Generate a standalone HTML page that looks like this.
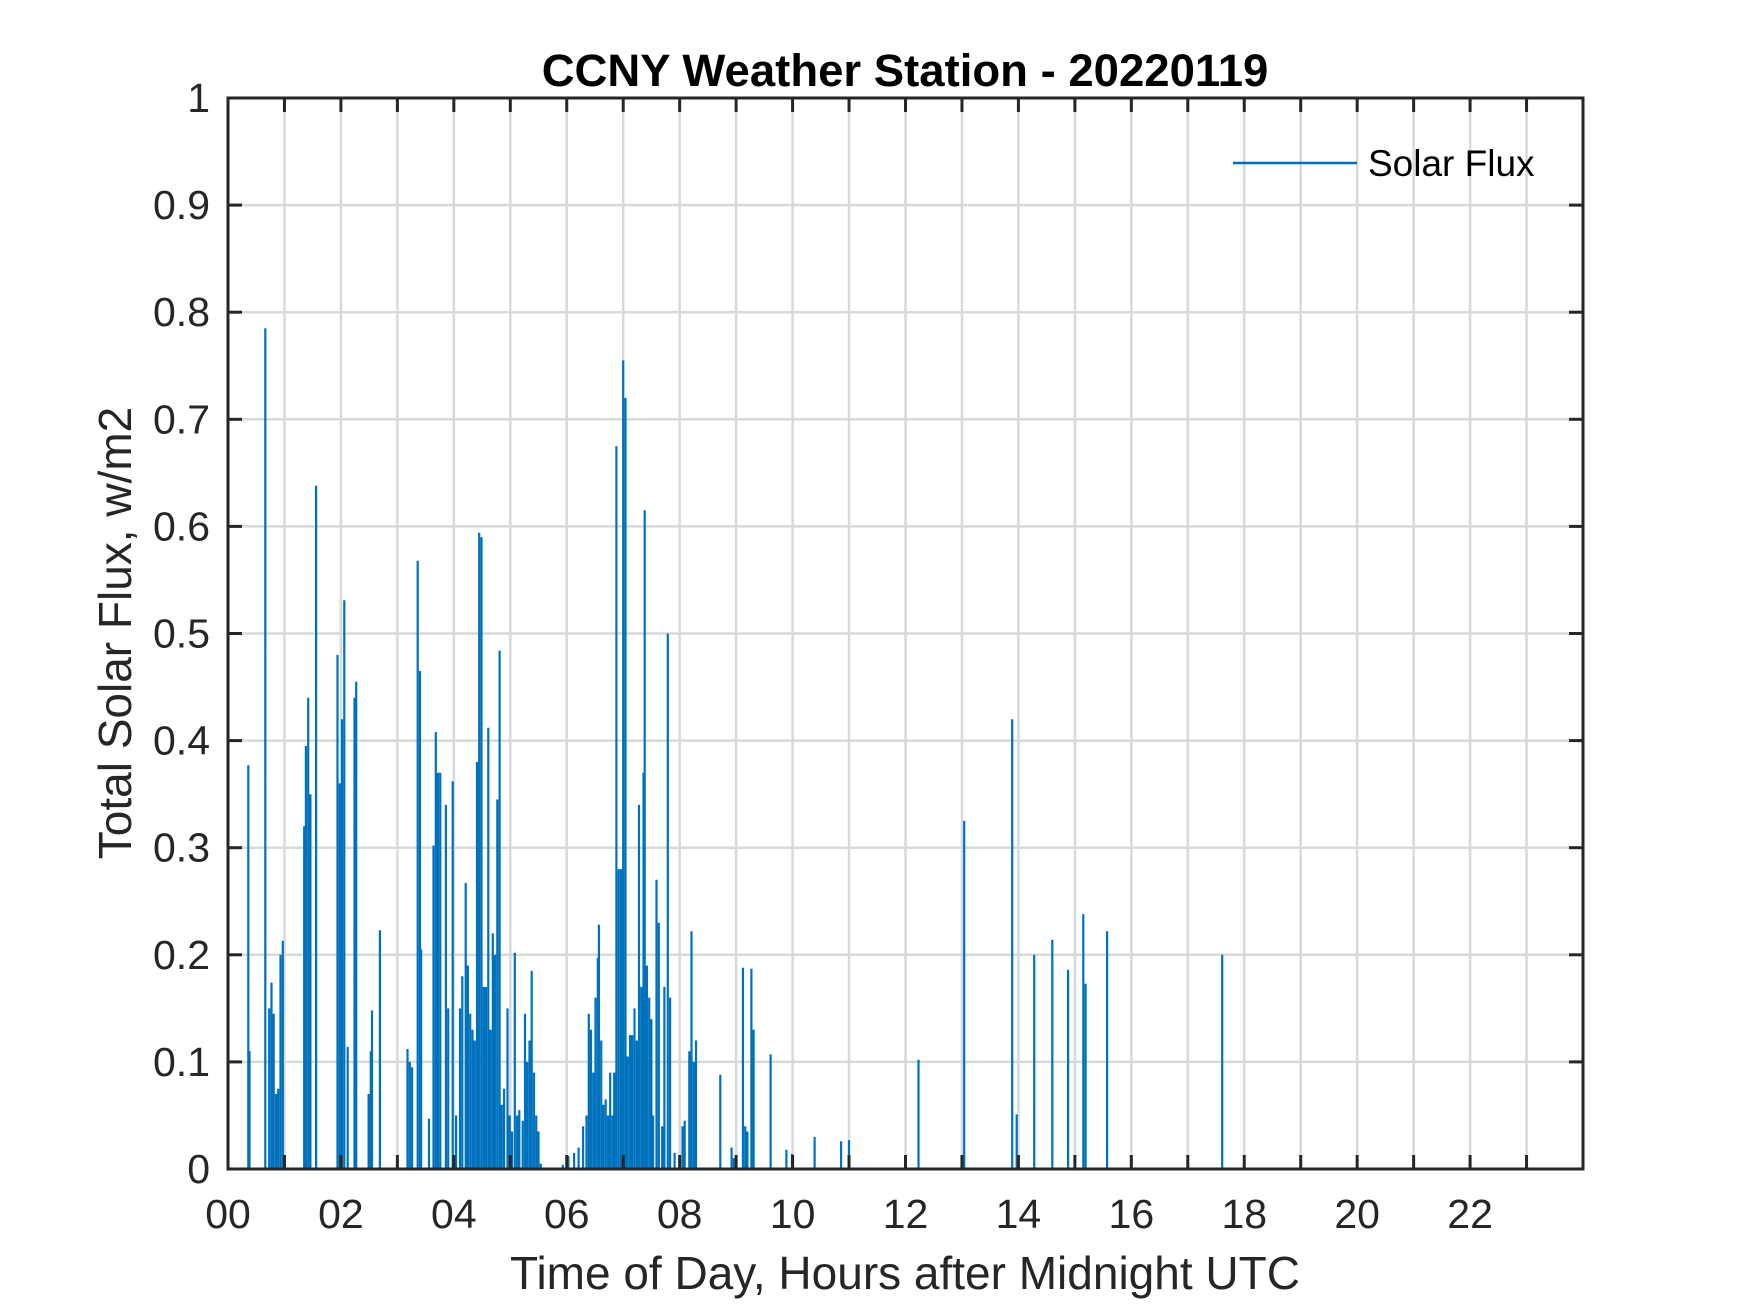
<!DOCTYPE html>
<html><head><meta charset="utf-8"><style>
html,body{margin:0;padding:0;background:#fff;}
svg{display:block;font-family:"Liberation Sans",Arial,sans-serif;}
</style></head><body>
<svg id="chart" width="1750" height="1313" viewBox="0 0 1750 1313">
<g id="grid"></g>
<g id="series"></g>
<rect x="228" y="98" width="1355" height="1071" fill="none" stroke="#262626" stroke-width="3"/>
<g id="ticks"></g>
<text x="905" y="86" text-anchor="middle" font-size="45.5" font-weight="bold" fill="#000">CCNY Weather Station - 20220119</text>
<text x="905" y="1289" text-anchor="middle" font-size="46" fill="#262626">Time of Day, Hours after Midnight UTC</text>
<text transform="translate(131,633) rotate(-90)" text-anchor="middle" font-size="46" fill="#262626">Total Solar Flux, w/m2</text>
<g>
<line x1="1233" y1="163" x2="1357" y2="163" stroke="#0072BD" stroke-width="2.5"/>
<text x="1368" y="176" font-size="37" fill="#000">Solar Flux</text>
</g>
</svg>
<script>
const hours=[0.36,0.38,0.66,0.73,0.77,0.81,0.85,0.89,0.93,0.97,1.35,1.38,1.42,1.46,1.56,1.94,1.98,2.02,2.06,2.12,2.24,2.27,2.49,2.53,2.55,2.69,3.18,3.22,3.26,3.36,3.40,3.42,3.56,3.64,3.68,3.72,3.76,3.86,3.90,3.98,4.04,4.11,4.15,4.21,4.25,4.29,4.33,4.37,4.41,4.45,4.49,4.53,4.57,4.61,4.65,4.69,4.73,4.77,4.81,4.85,4.89,4.95,4.99,5.03,5.08,5.12,5.16,5.22,5.26,5.30,5.34,5.38,5.42,5.46,5.50,5.54,5.93,6.03,6.13,6.21,6.29,6.35,6.39,6.43,6.47,6.51,6.55,6.57,6.61,6.65,6.69,6.73,6.77,6.81,6.84,6.88,6.92,6.96,7.00,7.04,7.08,7.12,7.16,7.20,7.24,7.28,7.32,7.36,7.38,7.42,7.46,7.50,7.53,7.59,7.63,7.69,7.73,7.79,7.83,7.91,8.05,8.09,8.17,8.21,8.25,8.29,8.72,8.92,8.96,9.12,9.16,9.20,9.27,9.31,9.61,9.89,9.99,10.39,10.86,11.0,12.23,13.04,13.89,13.97,14.28,14.60,14.88,15.15,15.19,15.57,17.61];
const flux=[0.377,0.11,0.785,0.15,0.174,0.145,0.07,0.075,0.2,0.213,0.32,0.395,0.44,0.35,0.638,0.48,0.36,0.42,0.531,0.114,0.44,0.455,0.07,0.11,0.148,0.223,0.112,0.10,0.095,0.568,0.465,0.205,0.047,0.302,0.408,0.37,0.37,0.34,0.15,0.362,0.05,0.15,0.18,0.267,0.19,0.145,0.13,0.12,0.38,0.594,0.59,0.17,0.17,0.412,0.13,0.22,0.2,0.345,0.484,0.06,0.075,0.15,0.05,0.035,0.202,0.05,0.055,0.045,0.145,0.1,0.12,0.185,0.09,0.05,0.035,0.005,0.004,0.012,0.015,0.02,0.04,0.05,0.145,0.13,0.09,0.16,0.197,0.228,0.12,0.06,0.065,0.05,0.09,0.05,0.09,0.675,0.28,0.28,0.755,0.72,0.105,0.125,0.125,0.15,0.12,0.34,0.17,0.37,0.615,0.19,0.16,0.14,0.05,0.27,0.23,0.04,0.17,0.5,0.16,0.015,0.04,0.045,0.11,0.222,0.1,0.12,0.088,0.02,0.01,0.188,0.04,0.035,0.187,0.13,0.107,0.018,0.014,0.03,0.026,0.027,0.102,0.325,0.42,0.051,0.2,0.214,0.186,0.238,0.173,0.222,0.2];
const xTickLabels=['00','02','04','06','08','10','12','14','16','18','20','22'];
const yTickLabels=['0','0.1','0.2','0.3','0.4','0.5','0.6','0.7','0.8','0.9','1'];
const NS='http://www.w3.org/2000/svg';
const X0=228,X1=1583,Y0=1169,Y1=98;
function xs(h){return X0+(h/24)*(X1-X0);}
function ys(v){return Y0-(v/1)*(Y0-Y1);}
function mk(tag,attrs,parent){const e=document.createElementNS(NS,tag);for(const k in attrs)e.setAttribute(k,attrs[k]);parent.appendChild(e);return e;}
const grid=document.getElementById('grid'),ticks=document.getElementById('ticks'),series=document.getElementById('series');
for(let h=1;h<24;h++){
  const l=mk('line',{x1:xs(h),x2:xs(h),y1:Y1,y2:Y0,stroke:'#d9d9d9','stroke-width':2.5},grid);
  
  
  const t1=mk('line',{x1:xs(h),x2:xs(h),y1:Y0,y2:Y0-14,stroke:'#262626','stroke-width':3},ticks);
  
  
  const t2=mk('line',{x1:xs(h),x2:xs(h),y1:Y1,y2:Y1+14,stroke:'#262626','stroke-width':3},ticks);
  
  
}
xTickLabels.forEach((s,i)=>{
  const t=mk('text',{x:xs(i*2),y:1228,'text-anchor':'middle','font-size':41,fill:'#262626'},ticks);
  t.textContent=s;
  
  
});
yTickLabels.forEach((s,i)=>{
  const v=i/10;
  if(i>0&&i<10){
    const l=mk('line',{x1:X0,x2:X1,y1:ys(v),y2:ys(v),stroke:'#d9d9d9','stroke-width':2.5},grid);
    
    
  }
  const a=mk('line',{x1:X0,x2:X0+14,y1:ys(v),y2:ys(v),stroke:'#262626','stroke-width':3},ticks);
  
  
  const b=mk('line',{x1:X1,x2:X1-14,y1:ys(v),y2:ys(v),stroke:'#262626','stroke-width':3},ticks);
  
  
  const t=mk('text',{x:210,y:ys(v)+14,'text-anchor':'end','font-size':41,fill:'#262626'},ticks);
  t.textContent=s;
  
  
});
let d='M'+xs(0)+' '+ys(0)+' L'+xs(24)+' '+ys(0);
hours.forEach((h,i)=>{
  const x=xs(h).toFixed(1);
  d+=' M'+x+' '+ys(0)+' L'+x+' '+ys(flux[i]).toFixed(1);
});
const p=mk('path',{d:d,fill:'none',stroke:'#0072BD','stroke-width':2.2},series);


</script>
</body></html>
